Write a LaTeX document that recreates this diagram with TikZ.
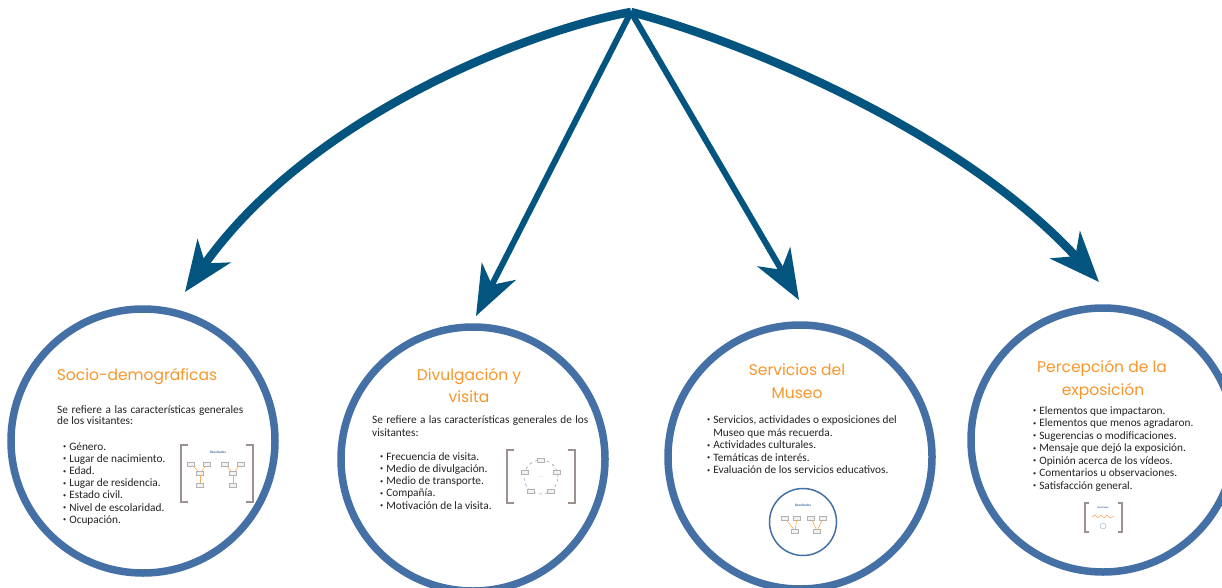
\documentclass[tikz,border=0pt]{standalone}
\usepackage{fontspec}
\setmainfont{Carlito}
\newfontfamily\titlefont{Poppins}
\usetikzlibrary{arrows.meta}
\definecolor{arrowblue}{HTML}{03557F}
\definecolor{ringblue}{HTML}{4470A5}
\definecolor{titleorange}{HTML}{F7962A}
\definecolor{bodytext}{HTML}{222222}
\definecolor{bracketgray}{HTML}{9C918E}
\newcommand{\bul}{\raisebox{0.25ex}{\scalebox{0.55}{•}}\hspace{3pt}}
\tikzset{
  arrcurve/.style={draw=arrowblue, line width=8.5pt, -{Stealth[length=50pt,width=40pt,inset=15pt]}},
  arrstraight/.style={draw=arrowblue, line width=6pt, -{Stealth[length=50pt,width=38pt,inset=15pt]}},
  ring/.style={circle, draw=ringblue, line width=7.5pt, minimum size=264pt, inner sep=0pt},
  titletext/.style={font=\titlefont\fontsize{15.5}{18}\selectfont, text=titleorange, inner sep=0pt, anchor=base},
  bodyline/.style={font=\fontsize{11.3}{13}\selectfont, text=bodytext, inner sep=0pt, anchor=base west},
  bracket/.style={draw=bracketgray, line width=1.6pt},
  tinybox/.style={draw=gray!60, line width=0.4pt, fill=gray!10, minimum width=7pt, minimum height=4pt, inner sep=0pt},
  tinylink/.style={draw=titleorange!80, line width=0.6pt},
  restitle/.style={font=\fontsize{3.5}{4}\selectfont\bfseries, text=ringblue, inner sep=0pt}
}
\begin{document}
\begin{tikzpicture}[x=1pt,y=-1pt]
\useasboundingbox (0,0) rectangle (1222,588);
\clip (0,0) rectangle (1222,588);
\fill[white] (0,0) rectangle (1222,588);

% rings
\node[ring] (c1) at (143,441) {};
\node[ring] (c2) at (473,459) {};
\node[ring] (c3) at (800,457) {};
\node[ring] (c4) at (1103,440) {};

% arrows
\coordinate (apex) at (631,12);
\coordinate (t1) at (185,292);
\coordinate (t2) at (476,316);
\coordinate (t3) at (799,300);
\coordinate (t4) at (1099,282);
\draw[arrcurve] (apex) .. controls (530,30) and (310,115) .. (t1);
\draw[arrcurve] (apex) .. controls (740,40) and (960,130) .. (t4);
\draw[arrstraight] (apex) -- (t2);
\draw[arrstraight] (apex) -- (t3);

% ---- circle 1
\node[titletext] (c1title) at (137,380) {Socio-demográficas};
\node[bodyline] (c1p1) at (57,413) {\makebox[186pt][s]{Se refiere a las características generales}};
\node[bodyline] (c1p2) at (57,424.5) {de los visitantes:};
\foreach \t [count=\i from 0] in {Género., Lugar de nacimiento., Edad., Lugar de residencia., Estado civil., Nivel de escolaridad., Ocupación.}
  \node[bodyline] (c1i\i) at (63,{450+12.2*\i}) {\bul\t};
% thumbnail 1
\draw[bracket] (188,445) -- (181,445) -- (181,502) -- (188,502);
\draw[bracket] (246,445) -- (253,445) -- (253,502) -- (246,502);
\node[restitle] (c1r) at (218,452) {Resultados};
\foreach \x [count=\k] in {191,207,225,241}
  \node[tinybox] (c1b\k) at (\x,464) {};
\node[tinybox] (c1b5) at (200,473) {};
\node[tinybox] (c1b6) at (233,473) {};
\node[tinybox] (c1b7) at (200,485) {};
\node[tinybox] (c1b8) at (233,485) {};
\draw[tinylink] (c1b1) -- (c1b5);
\draw[tinylink] (c1b2) -- (c1b5);
\draw[tinylink] (c1b3) -- (c1b6);
\draw[tinylink] (c1b4) -- (c1b6);
\draw[tinylink] (c1b5) -- (c1b7);
\draw[tinylink] (c1b6) -- (c1b8);

% ---- circle 2
\node[titletext] (c2title1) at (469,380) {Divulgación y};
\node[titletext] (c2title2) at (469,402) {visita};
\node[bodyline] (c2p1) at (372,423) {\makebox[216pt][s]{Se refiere a las características generales de los}};
\node[bodyline] (c2p2) at (372,436) {visitantes:};
\foreach \t [count=\i from 0] in {Frecuencia de visita., Medio de divulgación., Medio de transporte., Compañía., Motivación de la visita.}
  \node[bodyline] (c2i\i) at (380,{460+12.25*\i}) {\bul\t};
% thumbnail 2
\draw[bracket] (514,450) -- (507,450) -- (507,503) -- (514,503);
\draw[bracket] (568,450) -- (575,450) -- (575,503) -- (568,503);
\draw[ringblue!70, dashed, line width=0.5pt] (541,477) circle (17pt);
\foreach \a [count=\k] in {90,18,-54,-126,-198}
  \node[tinybox] (c2b\k) at ({541+17*cos(\a)},{477-17*sin(\a)}) {};
\node[font=\fontsize{3}{3}\selectfont, text=titleorange, inner sep=0pt] (c2m) at (541,477) {------};

% ---- circle 3
\node[titletext] (c3title1) at (797,375) {Servicios del};
\node[titletext] (c3title2) at (797,398) {Museo};
\node[bodyline] (c3i0) at (707,423) {\bul Servicios, actividades o exposiciones del};
\node[bodyline] (c3i0b) at (707,436) {\phantom{\bul}Museo que más recuerda.};
\node[bodyline] (c3i1) at (707,448.5) {\bul Actividades culturales.};
\node[bodyline] (c3i2) at (707,461) {\bul Temáticas de interés.};
\node[bodyline] (c3i3) at (707,473.5) {\bul Evaluación de los servicios educativos.};
% thumbnail 3
\node[circle, draw=ringblue, line width=1.5pt, minimum size=67pt, inner sep=0pt] (c3t) at (803,522) {};
\node[restitle] (c3r) at (803,505) {Resultados};
\foreach \x [count=\k] in {785,797,811,823}
  \node[tinybox] (c3b\k) at (\x,518) {};
\node[tinybox] (c3b5) at (795,531) {};
\node[tinybox] (c3b6) at (817,531) {};
\draw[tinylink] (c3b1) -- (c3b5);
\draw[tinylink] (c3b2) -- (c3b5);
\draw[tinylink] (c3b3) -- (c3b6);
\draw[tinylink] (c3b4) -- (c3b6);

% ---- circle 4
\node[titletext] (c4title1) at (1102,372) {Percepción de la};
\node[titletext] (c4title2) at (1103,395) {exposición};
\foreach \t [count=\i from 0] in {Elementos que impactaron., Elementos que menos agradaron., Sugerencias o modificaciones., Mensaje que dejó la exposición., Opinión acerca de los vídeos., Comentarios u observaciones., Satisfacción general.}
  \node[bodyline] (c4i\i) at (1033,{414+12.5*\i}) {\bul\t};
% thumbnail 4
\draw[bracket, line width=1.2pt] (1089,503) -- (1085,503) -- (1085,532) -- (1089,532);
\draw[bracket, line width=1.2pt] (1118,503) -- (1122,503) -- (1122,532) -- (1118,532);
\node[restitle, font=\fontsize{2.5}{3}\selectfont\bfseries] (c4r) at (1103,508) {Resultados};
\draw[tinylink] (1092,517) -- (1095,515) -- (1098,518) -- (1101,515) -- (1104,518) -- (1107,515) -- (1110,518) -- (1114,516);
\node[circle, draw=ringblue!60, line width=0.4pt, minimum size=6pt, inner sep=0pt] (c4c) at (1103,526) {};
\end{tikzpicture}
\end{document}
